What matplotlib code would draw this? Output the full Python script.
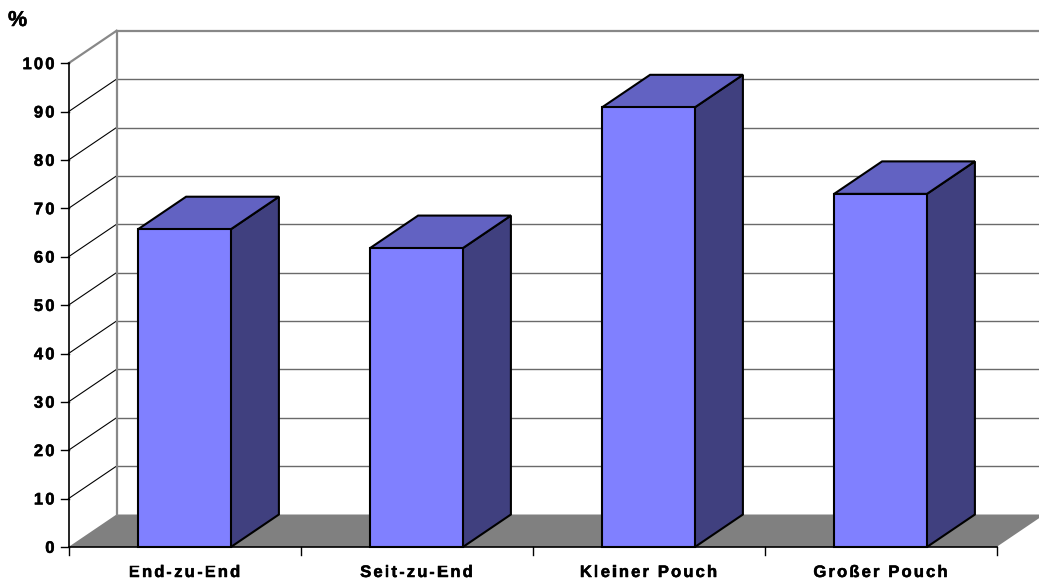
import matplotlib
matplotlib.use("Agg")
import matplotlib.pyplot as plt
from matplotlib.patches import Polygon, Rectangle
from matplotlib import font_manager
from matplotlib.ft2font import FT2Font
import matplotlib.patheffects as pe

# ---- data ----
categories = ["End-zu-End", "Seit-zu-End", "Kleiner Pouch", "Großer Pouch"]
values = [65.7, 61.8, 90.9, 73.0]
yticks = [0, 10, 20, 30, 40, 50, 60, 70, 80, 90, 100]
ylabel = "%"

# ---- layout constants (pixels) ----
W, H, DPI = 1039, 582, 100
X0_PX, Y0_PX = 68.5, 547.0       # pixel location of origin (front)
PX = 232.0                        # pixels per category
PY = 4.837                        # pixels per value unit
DX = 48.0 / PX                    # depth offset in category units
DY = 32.5 / PY                    # depth offset in value units
N = len(categories)

fig = plt.figure(figsize=(W / DPI, H / DPI), dpi=DPI)
ax = fig.add_axes([0, 0, 1, 1])
ax.set_xlim(-X0_PX / PX, (W - X0_PX) / PX)
ax.set_ylim(-(H - Y0_PX) / PY, Y0_PX / PY)
ax.axis("off")

FRONT = "#8080FF"
TOP = "#6262C2"
SIDE = "#40407F"
FLOOR = "#808080"
GRID = "#6a6a6a"

# floor
ax.add_patch(Polygon([(0, 0), (N, 0), (N + DX, DY), (DX, DY)], closed=True,
                     facecolor=FLOOR, edgecolor="none", zorder=1))

# back wall gridlines and side-wall diagonals
for v in yticks:
    if v == 0:
        continue
    if v == yticks[-1]:
        ax.plot([DX, N + DX + 1], [v + DY, v + DY], color="#888888", lw=1.6, zorder=2)
        ax.plot([0, DX], [v, v + DY], color="#888888", lw=1.6, zorder=2)
    else:
        ax.plot([DX, N + DX + 1], [v + DY, v + DY], color=GRID, lw=1.0, zorder=2)
        ax.plot([0, DX], [v, v + DY], color="black", lw=0.8, zorder=2)
ax.plot([DX, DX], [DY, yticks[-1] + DY], color="#888888", lw=1.6, zorder=2)

# front axes
ax.plot([0, 0], [0, yticks[-1]], color="black", lw=1.2, zorder=3)
ax.plot([0, N], [0, 0], color="black", lw=1.2, zorder=3)
for v in yticks:
    ax.plot([-8 / PX, 0], [v, v], color="black", lw=1.0, zorder=3)
for i in range(N + 1):
    ax.plot([i, i], [0, -8 / PY], color="black", lw=1.0, zorder=3)

# bars
for i, v in enumerate(values):
    L, R = i + 0.3, i + 0.7
    ax.add_patch(Polygon([(R, 0), (R + DX, DY), (R + DX, v + DY), (R, v)], closed=True,
                         facecolor=SIDE, edgecolor="black", lw=1.5, zorder=4))
    ax.add_patch(Polygon([(L, v), (R, v), (R + DX, v + DY), (L + DX, v + DY)], closed=True,
                         facecolor=TOP, edgecolor="black", lw=1.5, zorder=4))
    ax.add_patch(Rectangle((L, 0), 0.4, v, facecolor=FRONT, edgecolor="black",
                           lw=1.5, zorder=5))

# ---- letter-spaced text ----
FS = 12.0
SPACING_PX = 2.1
font_path = font_manager.findfont(
    font_manager.FontProperties(family="Liberation Sans", weight="bold"))
ft = FT2Font(font_path)
bold_fx = [pe.withStroke(linewidth=0.35, foreground="black")]


def advances(s, fs):
    ft.set_size(fs, 72)
    return [ft.load_char(ord(ch)).linearHoriAdvance / 65536.0 * DPI / 72.0 for ch in s]


def spaced_text(x_px, base_px, s, ha="center", fs=FS, sp=SPACING_PX):
    fp = font_manager.FontProperties(family="Liberation Sans", weight="bold", size=fs)
    adv = advances(s, fs)
    total = sum(adv) + sp * (len(s) - 1)
    if ha == "center":
        start = x_px - total / 2
    elif ha == "right":
        start = x_px - total
    else:
        start = x_px
    pos = start
    for ch, a in zip(s, adv):
        if ch != " ":
            ax.text((pos - X0_PX) / PX, (Y0_PX - base_px) / PY, ch,
                    ha="left", va="baseline", fontproperties=fp, zorder=6,
                    path_effects=bold_fx)
        pos += a + sp


for v in yticks:
    spaced_text(54.5, Y0_PX - v * PY + 5.8, str(v), ha="right")

for i, c in enumerate(categories):
    spaced_text(X0_PX + (i + 0.5) * PX, 577.0, c, ha="center")

spaced_text(8.0, 26.0, ylabel, ha="left", fs=15.5)

fig.savefig("out.png", dpi=DPI)
